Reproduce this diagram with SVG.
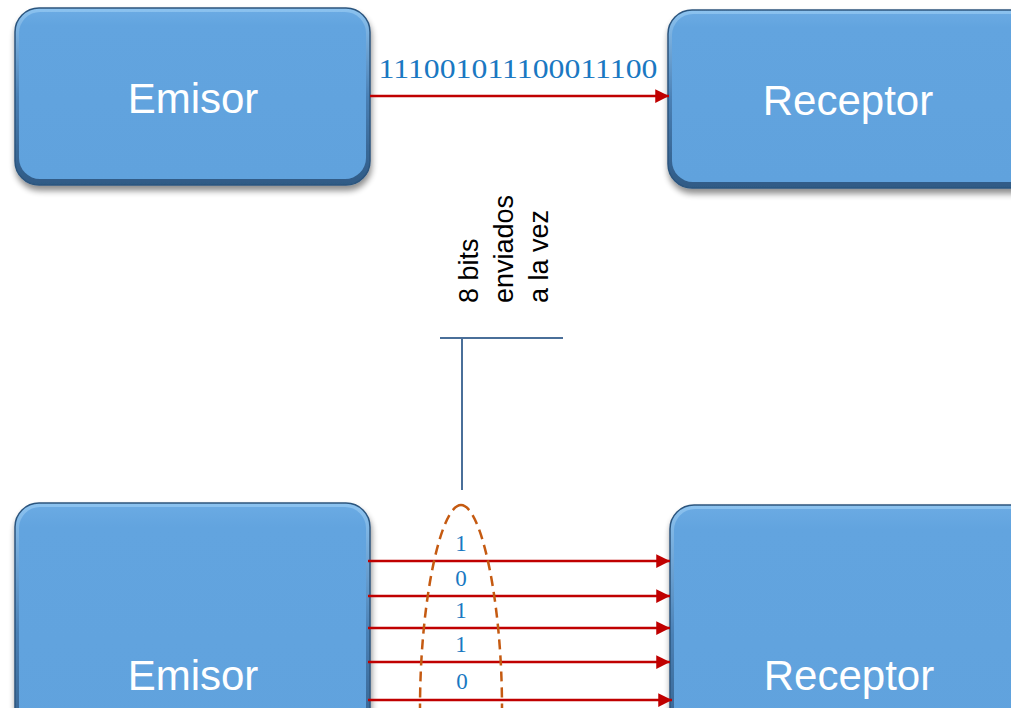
<svg xmlns="http://www.w3.org/2000/svg" width="1011" height="708" viewBox="0 0 1011 708">
  <defs>
    <style>
      .box-edge { fill: url(#edgeGrad); stroke: #2c557e; stroke-width: 1.5; filter: url(#shadow); }
      .box-face { fill: url(#faceGrad); }
      .box-label { font-family: "Liberation Sans", Arial, sans-serif; font-size: 42px; fill: #ffffff; text-anchor: middle; }
      .wire { stroke: #c00000; stroke-width: 2.5; fill: none; marker-end: url(#arrow); }
      .bits { font-family: "Liberation Serif", "DejaVu Serif", serif; fill: #1a78c2; text-anchor: middle; }
      .note { font-family: "Liberation Sans", Arial, sans-serif; font-size: 27px; fill: #000000; }
      .bracket { stroke: #4a6f99; stroke-width: 2; fill: none; }
      .group-outline { stroke: #c55a11; stroke-width: 2.5; stroke-dasharray: 10 6; fill: none; }
    </style>
    <linearGradient id="edgeGrad" x1="0" y1="0" x2="0" y2="1">
      <stop offset="0" stop-color="#8cc3f0"/>
      <stop offset="0.5" stop-color="#4a80b5"/>
      <stop offset="1" stop-color="#2f5a85"/>
    </linearGradient>
    <linearGradient id="faceGrad" x1="0" y1="0" x2="0" y2="1">
      <stop offset="0" stop-color="#6aaae3"/>
      <stop offset="0.08" stop-color="#62a4df"/>
      <stop offset="1" stop-color="#60a2dd"/>
    </linearGradient>
    <filter id="shadow" x="-10%" y="-10%" width="125%" height="130%">
      <feGaussianBlur in="SourceAlpha" stdDeviation="3"/>
      <feOffset dx="1" dy="5" result="off"/>
      <feComponentTransfer><feFuncA type="linear" slope="0.45"/></feComponentTransfer>
      <feMerge><feMergeNode/><feMergeNode in="SourceGraphic"/></feMerge>
    </filter>
    <marker id="arrow" viewBox="0 0 10 10" refX="10" refY="5" markerWidth="6" markerHeight="5.5" markerUnits="strokeWidth" orient="auto">
      <path d="M0,0 L10,5 L0,10 z" fill="#c00000"/>
    </marker>
  </defs>

  <rect width="1011" height="708" fill="#ffffff"/>

  <!-- Serial link: one wire -->
  <g id="emisor-serial">
    <rect class="box-edge" x="15" y="8" width="355" height="177" rx="24"/>
    <rect class="box-face" x="19" y="12" width="347" height="167" rx="21"/>
    <text class="box-label" x="193" y="113">Emisor</text>
  </g>
  <g id="receptor-serial">
    <rect class="box-edge" x="668" y="10" width="370" height="178" rx="24"/>
    <rect class="box-face" x="672" y="14" width="362" height="168" rx="21"/>
    <text class="box-label" x="848" y="115">Receptor</text>
  </g>

  <!-- Parallel link: eight wires -->
  <g id="emisor-parallel">
    <rect class="box-edge" x="15" y="503" width="355" height="260" rx="24"/>
    <rect class="box-face" x="19" y="507" width="347" height="251" rx="21"/>
    <text class="box-label" x="193" y="690">Emisor</text>
  </g>
  <g id="receptor-parallel">
    <rect class="box-edge" x="670" y="505" width="370" height="260" rx="24"/>
    <rect class="box-face" x="674" y="509" width="362" height="251" rx="21"/>
    <text class="box-label" x="849" y="690">Receptor</text>
  </g>

  <g id="connectors">
    <line class="wire" x1="370" y1="96" x2="669" y2="96"/>
    <line class="wire" x1="368" y1="561" x2="670" y2="561"/>
    <line class="wire" x1="368" y1="596" x2="670" y2="596"/>
    <line class="wire" x1="368" y1="628" x2="670" y2="628"/>
    <line class="wire" x1="368" y1="662" x2="670" y2="662"/>
    <line class="wire" x1="368" y1="700" x2="672" y2="700"/>
  </g>

  <!-- Serial bit stream -->
  <text class="bits" x="518" y="78" font-size="27" textLength="279" lengthAdjust="spacingAndGlyphs">111001011100011100</text>

  <!-- Callout for the parallel group -->
  <g id="callout">
    <line class="bracket" x1="440" y1="338" x2="563" y2="338"/>
    <line class="bracket" x1="462" y1="338" x2="462" y2="490"/>
    <text class="note" transform="translate(478 303) rotate(-90)">8 bits</text>
    <text class="note" transform="translate(513 303) rotate(-90)">enviados</text>
    <text class="note" transform="translate(548 303) rotate(-90)">a la vez</text>
  </g>

  <!-- Bits travelling side by side -->
  <g id="parallel-bits">
    <path class="group-outline" d="M461,505 C441,505 420,600 420,708 M461,505 C481,505 502,600 502,708"/>
    <text class="bits" x="461" y="551" font-size="23">1</text>
    <text class="bits" x="461" y="586" font-size="23">0</text>
    <text class="bits" x="461" y="618" font-size="23">1</text>
    <text class="bits" x="461" y="652" font-size="23">1</text>
    <text class="bits" x="462" y="689" font-size="23">0</text>
  </g>
</svg>
